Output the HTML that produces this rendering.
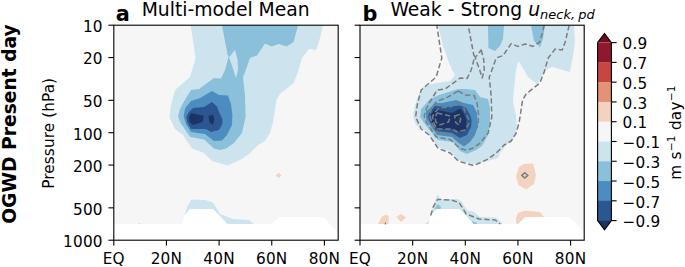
<!DOCTYPE html>
<html lang="en">
<head>
<meta charset="utf-8">
<title>OGWD Present day</title>
<style>
html,body{margin:0;padding:0;background:#fff;}
body{width:685px;height:267px;overflow:hidden;}
svg{display:block;}
text{font-family:"DejaVu Sans","Liberation Sans",sans-serif;fill:#000;}
.tk{font-size:15.28px;letter-spacing:0.22px;}
.ti{font-size:18.75px;}
.pl{font-size:20.83px;font-weight:bold;}
.it{font-style:italic;}
</style>
</head>
<body>
<svg width="685" height="267" viewBox="0 0 685 267">
<rect width="685" height="267" fill="#fff"/>
<defs>
<clipPath id="ca"><rect x="113.8" y="25.2" width="224.4" height="215.0"/></clipPath>
<clipPath id="cb"><rect x="360.0" y="25.2" width="224.2" height="215.0"/></clipPath>
</defs>

<g clip-path="url(#ca)">
<rect x="113.8" y="25.2" width="224.4" height="215.0" fill="#f6f6f6"/>
<polygon points="190.6,25.2 323.0,25.2 319.0,42.0 316.0,50.0 309.0,49.0 302.0,58.0 298.0,72.0 293.6,83.0 280.0,94.0 276.4,100.0 274.6,112.0 273.0,122.0 270.0,133.0 265.0,141.0 258.0,145.0 250.0,153.0 242.0,159.0 227.6,165.6 212.0,161.0 204.0,153.0 192.0,148.5 183.0,135.0 175.0,129.0 169.4,117.0 171.0,105.0 175.0,90.0 190.0,77.0 192.0,70.0 195.6,58.0" fill="#cde4ef"/>
<polygon points="222.0,25.2 298.0,25.2 293.6,42.0 286.6,46.4 279.0,44.0 271.6,46.4 265.0,43.6 257.0,55.5 250.0,58.0 244.0,75.0 243.0,77.0 245.0,96.0 245.6,117.0 242.0,133.0 234.0,143.0 226.0,148.6 220.0,150.0 214.0,148.6 204.0,139.5 190.0,137.0 180.0,122.0 178.0,116.0 180.0,109.0 183.0,103.0 191.0,90.0 199.0,89.0 214.0,78.0 221.0,78.4 225.0,70.0 228.6,56.5 227.6,55.0" fill="#8bc0da"/>
<polygon points="235.0,50.0 237.6,60.0 238.0,70.0 236.0,78.0 233.5,70.0 229.0,57.5" fill="#cde4ef"/>
<polygon points="212.0,91.0 219.0,95.0 228.0,95.6 231.0,104.0 232.4,115.0 232.0,125.0 227.0,135.0 222.0,140.6 214.0,141.0 205.0,134.0 191.0,132.0 186.0,124.0 183.6,116.0 185.0,109.0 186.0,107.0 191.0,101.0 200.0,98.0" fill="#4c8cc0"/>
<polygon points="212.0,102.0 217.0,106.5 219.0,112.0 222.4,119.0 222.4,124.0 219.0,130.0 211.0,132.0 206.0,129.0 191.0,129.0 187.0,122.0 186.4,116.5 189.0,112.0 193.0,108.0 204.0,107.0" fill="#2c5690"/>
<polygon points="191.0,113.0 204.0,116.0 202.4,122.0 193.0,125.0 189.6,122.0 189.0,117.0" fill="#1b3465"/>
<polygon points="208.4,116.0 213.0,114.6 214.4,119.0 213.0,125.0 209.6,122.6" fill="#1b3465"/>
<polygon points="275.6,175.4 278.6,172.8 281.6,175.4 278.6,178.0" fill="#f3d3c0"/>
<polygon points="184.5,215.5 187.0,207.0 191.4,199.4 205.0,200.0 213.0,202.6 220.0,214.0 233.0,219.0 249.0,220.0 254.0,224.0 254.0,230.0 184.0,230.0" fill="#cde4ef"/>
<polygon points="137.6,224.3 139.2,222.9 140.8,224.3" fill="#f3d3c0"/>
<polygon points="113.8,224.0 182.6,224.0 184.0,216.0 190.0,209.0 213.0,209.0 220.0,216.0 227.4,224.0 272.0,224.0 279.0,217.0 323.0,217.0 338.2,232.5 338.2,240.2 113.8,240.2" fill="#fff"/>
</g>
<g clip-path="url(#cb)">
<rect x="360.0" y="25.2" width="224.2" height="215.0" fill="#f6f6f6"/>
<polygon points="438.0,25.2 574.0,25.2 575.0,42.0 573.0,56.0 570.0,72.0 552.0,67.0 546.0,70.0 543.0,75.0 541.0,78.0 537.0,84.0 528.0,77.0 524.0,70.0 518.4,61.0 516.0,70.0 514.0,90.0 513.0,102.0 516.0,115.0 517.0,129.0 513.0,140.0 507.0,144.0 500.0,153.0 498.0,158.0 484.0,162.0 473.0,164.0 458.0,160.0 450.0,151.0 444.0,150.0 436.0,145.0 431.0,137.0 426.0,131.0 416.0,125.0 413.0,117.0 414.5,107.0 418.0,96.0 423.0,87.0 436.0,83.0 450.0,81.0 455.0,75.0 452.0,70.0 448.0,60.0 443.0,46.0" fill="#cde4ef"/>
<polygon points="488.0,25.2 504.0,25.2 503.0,39.0 500.0,46.0 495.0,51.0 488.4,48.0" fill="#8bc0da"/>
<polygon points="531.0,25.2 545.0,25.2 543.0,39.0 540.0,47.6 534.0,41.0" fill="#8bc0da"/>
<polygon points="458.0,89.0 465.0,89.0 475.0,90.0 480.0,97.0 488.0,99.0 490.0,108.0 490.0,125.0 488.0,135.0 482.0,146.0 476.0,150.0 467.0,154.0 460.0,151.0 453.0,142.0 438.0,140.0 431.0,132.0 424.0,123.0 420.0,117.0 421.0,109.0 423.0,107.0 430.0,99.0 439.0,95.0" fill="#8bc0da"/>
<polygon points="456.0,100.0 464.0,103.0 473.0,105.0 477.0,113.0 478.0,125.0 475.0,135.0 470.0,142.0 464.0,146.5 458.0,142.5 452.0,137.0 437.0,135.0 432.0,128.0 426.0,119.0 426.0,111.0 429.0,109.0 435.0,103.0 442.0,103.0" fill="#4c8cc0"/>
<polygon points="460.0,105.5 466.0,108.0 470.0,115.0 471.6,120.0 471.0,127.0 467.0,135.0 460.0,138.0 452.0,133.0 436.0,131.0 430.0,122.0 428.0,117.0 429.0,113.0 435.0,106.0 446.0,107.0" fill="#2c5690"/>
<polygon points="435.0,109.0 442.0,111.0 452.0,113.0 460.0,108.5 463.0,112.0 466.4,119.0 466.0,129.0 462.0,133.0 454.0,129.0 438.0,129.0 432.0,122.0 431.0,114.0" fill="#1b3465"/>
<polygon points="524.0,164.0 533.0,163.4 536.0,175.0 534.0,184.0 526.0,189.4 518.4,185.0 516.0,176.0 519.0,167.0" fill="#f3d3c0"/>
<polygon points="378.0,224.0 382.0,216.6 386.0,214.6 389.0,217.0 388.4,224.0 388.4,226.0 378.0,226.0" fill="#f3d3c0"/>
<polygon points="396.4,217.0 401.0,214.0 406.0,217.4 401.0,222.0" fill="#f3d3c0"/>
<polygon points="516.0,218.0 518.0,213.0 525.0,210.6 540.0,212.0 544.0,217.0 544.0,221.0 518.0,227.0 516.0,222.0" fill="#f3d3c0"/>
<polygon points="425.0,224.0 429.0,221.0 433.0,207.0 437.6,194.0 440.0,199.0 458.0,199.0 461.6,202.0 467.0,210.0 474.0,212.0 480.0,217.0 496.0,217.4 503.0,224.0 503.0,230.0 425.0,230.0" fill="#cde4ef"/>
<polygon points="435.0,208.0 438.0,204.0 441.0,207.0 440.0,211.0 436.0,211.0" fill="#8bc0da"/>
<polygon points="472.0,221.0 477.0,223.0 476.0,226.0 473.0,226.0" fill="#8bc0da"/>
<polygon points="360.0,224.0 428.8,224.0 430.2,216.0 436.2,209.0 459.2,209.0 466.2,216.0 473.6,224.0 518.2,224.0 525.2,217.0 569.2,217.0 584.4,232.5 584.4,240.2 360.0,240.2" fill="#fff"/>
<g fill="none" stroke="#7d7d7d" stroke-width="1.5" stroke-dasharray="5.3 2.7" stroke-linejoin="round">
<polyline points="569.2,25.2 565.2,42.0 562.2,50.0 555.2,49.0 548.2,58.0 544.2,72.0 539.8,83.0 526.2,94.0 522.6,100.0 520.8,112.0 519.2,122.0 516.2,133.0 511.2,141.0 504.2,145.0 496.2,153.0 488.2,159.0 473.8,165.6 458.2,161.0 450.2,153.0 438.2,148.5 429.2,135.0 421.2,129.0 415.6,117.0 417.2,105.0 421.2,90.0 436.2,77.0 438.2,70.0 441.8,58.0 436.8,25.2"/>
<polyline points="544.2,25.2 539.8,42.0 532.8,46.4 525.2,44.0 517.8,46.4 511.2,43.6 503.2,55.5 496.2,58.0 490.2,75.0 489.2,77.0 491.2,96.0 491.8,117.0 488.2,133.0 480.2,143.0 472.2,148.6 466.2,150.0 460.2,148.6 450.2,139.5 436.2,137.0 426.2,122.0 424.2,116.0 426.2,109.0 429.2,103.0 437.2,90.0 445.2,89.0 460.2,78.0 467.2,78.4 471.2,70.0 474.8,56.5 473.8,55.0 468.2,25.2"/>
<polygon points="481.2,50.0 483.8,60.0 484.2,70.0 482.2,78.0 479.7,70.0 475.2,57.5"/>
<polygon points="458.2,91.0 465.2,95.0 474.2,95.6 477.2,104.0 478.6,115.0 478.2,125.0 473.2,135.0 468.2,140.6 460.2,141.0 451.2,134.0 437.2,132.0 432.2,124.0 429.8,116.0 431.2,109.0 432.2,107.0 437.2,101.0 446.2,98.0"/>
<polygon points="458.2,102.0 463.2,106.5 465.2,112.0 468.6,119.0 468.6,124.0 465.2,130.0 457.2,132.0 452.2,129.0 437.2,129.0 433.2,122.0 432.6,116.5 435.2,112.0 439.2,108.0 450.2,107.0"/>
<polygon points="437.2,113.0 450.2,116.0 448.6,122.0 439.2,125.0 435.8,122.0 435.2,117.0"/>
<polygon points="454.6,116.0 459.2,114.6 460.6,119.0 459.2,125.0 455.8,122.6"/>
<polyline points="430.7,215.5 433.2,207.0 437.6,199.4 451.2,200.0 459.2,202.6 466.2,214.0 479.2,219.0 495.2,220.0 500.2,224.0"/>
</g>
<polygon points="521.8,175.4 524.8,172.8 527.8,175.4 524.8,178.0" fill="none" stroke="#7d7d7d" stroke-width="1.4"/>
<line x1="385.4" y1="222.6" x2="385.4" y2="224.6" stroke="#7d7d7d" stroke-width="1.2"/>
</g>
<rect x="113.8" y="25.2" width="224.4" height="215.0" fill="none" stroke="#000" stroke-width="1.1"/>
<line x1="113.80" y1="240.2" x2="113.80" y2="245.6" stroke="#000" stroke-width="1.1"/>
<text class="tk" x="113.80" y="263.9" text-anchor="middle">EQ</text>
<line x1="166.45" y1="240.2" x2="166.45" y2="245.6" stroke="#000" stroke-width="1.1"/>
<text class="tk" x="166.45" y="263.9" text-anchor="middle">20N</text>
<line x1="219.10" y1="240.2" x2="219.10" y2="245.6" stroke="#000" stroke-width="1.1"/>
<text class="tk" x="219.10" y="263.9" text-anchor="middle">40N</text>
<line x1="271.75" y1="240.2" x2="271.75" y2="245.6" stroke="#000" stroke-width="1.1"/>
<text class="tk" x="271.75" y="263.9" text-anchor="middle">60N</text>
<line x1="324.40" y1="240.2" x2="324.40" y2="245.6" stroke="#000" stroke-width="1.1"/>
<text class="tk" x="324.40" y="263.9" text-anchor="middle">80N</text>
<line x1="108.4" y1="25.20" x2="113.8" y2="25.20" stroke="#000" stroke-width="1.1"/>
<text class="tk" x="102.8" y="32.00" text-anchor="end">10</text>
<line x1="108.4" y1="57.56" x2="113.8" y2="57.56" stroke="#000" stroke-width="1.1"/>
<text class="tk" x="102.8" y="64.36" text-anchor="end">20</text>
<line x1="108.4" y1="100.34" x2="113.8" y2="100.34" stroke="#000" stroke-width="1.1"/>
<text class="tk" x="102.8" y="107.14" text-anchor="end">50</text>
<line x1="108.4" y1="132.70" x2="113.8" y2="132.70" stroke="#000" stroke-width="1.1"/>
<text class="tk" x="102.8" y="139.50" text-anchor="end">100</text>
<line x1="108.4" y1="165.06" x2="113.8" y2="165.06" stroke="#000" stroke-width="1.1"/>
<text class="tk" x="102.8" y="171.86" text-anchor="end">200</text>
<line x1="108.4" y1="207.84" x2="113.8" y2="207.84" stroke="#000" stroke-width="1.1"/>
<text class="tk" x="102.8" y="214.64" text-anchor="end">500</text>
<line x1="108.4" y1="240.20" x2="113.8" y2="240.20" stroke="#000" stroke-width="1.1"/>
<text class="tk" x="102.8" y="247.00" text-anchor="end">1000</text>
<rect x="360.0" y="25.2" width="224.2" height="215.0" fill="none" stroke="#000" stroke-width="1.1"/>
<line x1="360.00" y1="240.2" x2="360.00" y2="245.6" stroke="#000" stroke-width="1.1"/>
<text class="tk" x="360.00" y="263.9" text-anchor="middle">EQ</text>
<line x1="412.65" y1="240.2" x2="412.65" y2="245.6" stroke="#000" stroke-width="1.1"/>
<text class="tk" x="412.65" y="263.9" text-anchor="middle">20N</text>
<line x1="465.30" y1="240.2" x2="465.30" y2="245.6" stroke="#000" stroke-width="1.1"/>
<text class="tk" x="465.30" y="263.9" text-anchor="middle">40N</text>
<line x1="517.95" y1="240.2" x2="517.95" y2="245.6" stroke="#000" stroke-width="1.1"/>
<text class="tk" x="517.95" y="263.9" text-anchor="middle">60N</text>
<line x1="570.60" y1="240.2" x2="570.60" y2="245.6" stroke="#000" stroke-width="1.1"/>
<text class="tk" x="570.60" y="263.9" text-anchor="middle">80N</text>
<line x1="354.6" y1="25.20" x2="360.0" y2="25.20" stroke="#000" stroke-width="1.1"/>
<line x1="354.6" y1="57.56" x2="360.0" y2="57.56" stroke="#000" stroke-width="1.1"/>
<line x1="354.6" y1="100.34" x2="360.0" y2="100.34" stroke="#000" stroke-width="1.1"/>
<line x1="354.6" y1="132.70" x2="360.0" y2="132.70" stroke="#000" stroke-width="1.1"/>
<line x1="354.6" y1="165.06" x2="360.0" y2="165.06" stroke="#000" stroke-width="1.1"/>
<line x1="354.6" y1="207.84" x2="360.0" y2="207.84" stroke="#000" stroke-width="1.1"/>
<line x1="354.6" y1="240.20" x2="360.0" y2="240.20" stroke="#000" stroke-width="1.1"/>
<text class="pl" x="115.8" y="20.6">a</text>
<text class="ti" x="225.7" y="15.9" text-anchor="middle">Multi-model Mean</text>
<text class="pl" x="362.4" y="20.6">b</text>
<text class="ti" x="390.4" y="15.9">Weak - Strong <tspan class="it">u</tspan><tspan class="it" font-size="13px" dy="2.8">neck,</tspan><tspan class="it" font-size="13px" dx="3.2">pd</tspan></text>
<text transform="translate(15.6,124) rotate(-90)" text-anchor="middle" font-size="18.7px" font-weight="bold">OGWD Present day</text>
<text class="tk" style="letter-spacing:0.1px" transform="translate(53.6,133.3) rotate(-90)" text-anchor="middle">Pressure (hPa)</text>
<rect x="597.6" y="42.60" width="13.8" height="20.08" fill="#8f182c"/>
<rect x="597.6" y="62.38" width="13.8" height="20.08" fill="#c74642"/>
<rect x="597.6" y="82.16" width="13.8" height="20.08" fill="#e49275"/>
<rect x="597.6" y="101.93" width="13.8" height="20.08" fill="#f3d3c0"/>
<rect x="597.6" y="121.71" width="13.8" height="20.08" fill="#f6f6f6"/>
<rect x="597.6" y="141.49" width="13.8" height="20.08" fill="#cde4ef"/>
<rect x="597.6" y="161.27" width="13.8" height="20.08" fill="#8bc0da"/>
<rect x="597.6" y="181.04" width="13.8" height="20.08" fill="#4c8cc0"/>
<rect x="597.6" y="200.82" width="13.8" height="20.08" fill="#2c5690"/>
<polygon points="597.6,42.6 604.5,33.4 611.4,42.6" fill="#6e0c24"/>
<polygon points="597.6,220.6 604.5,229.8 611.4,220.6" fill="#1b3465"/>
<polygon points="597.6,42.6 604.5,33.4 611.4,42.6 611.4,220.6 604.5,229.8 597.6,220.6" fill="none" stroke="#000" stroke-width="1.1" stroke-linejoin="miter"/>
<line x1="611.4" y1="42.60" x2="616.6" y2="42.60" stroke="#000" stroke-width="1.1"/>
<text class="tk" x="622.5" y="49.30">0.9</text>
<line x1="611.4" y1="62.38" x2="616.6" y2="62.38" stroke="#000" stroke-width="1.1"/>
<text class="tk" x="622.5" y="69.08">0.7</text>
<line x1="611.4" y1="82.16" x2="616.6" y2="82.16" stroke="#000" stroke-width="1.1"/>
<text class="tk" x="622.5" y="88.86">0.5</text>
<line x1="611.4" y1="101.93" x2="616.6" y2="101.93" stroke="#000" stroke-width="1.1"/>
<text class="tk" x="622.5" y="108.63">0.3</text>
<line x1="611.4" y1="121.71" x2="616.6" y2="121.71" stroke="#000" stroke-width="1.1"/>
<text class="tk" x="622.5" y="128.41">0.1</text>
<line x1="611.4" y1="141.49" x2="616.6" y2="141.49" stroke="#000" stroke-width="1.1"/>
<text class="tk" x="622.5" y="148.19">−0.1</text>
<line x1="611.4" y1="161.27" x2="616.6" y2="161.27" stroke="#000" stroke-width="1.1"/>
<text class="tk" x="622.5" y="167.97">−0.3</text>
<line x1="611.4" y1="181.04" x2="616.6" y2="181.04" stroke="#000" stroke-width="1.1"/>
<text class="tk" x="622.5" y="187.74">−0.5</text>
<line x1="611.4" y1="200.82" x2="616.6" y2="200.82" stroke="#000" stroke-width="1.1"/>
<text class="tk" x="622.5" y="207.52">−0.7</text>
<line x1="611.4" y1="220.60" x2="616.6" y2="220.60" stroke="#000" stroke-width="1.1"/>
<text class="tk" x="622.5" y="227.30">−0.9</text>
<text class="tk" transform="translate(680.5,132.4) rotate(-90)" text-anchor="middle">m s<tspan font-size="10.7px" dy="-5.8">−1</tspan><tspan dy="5.8"> day</tspan><tspan font-size="10.7px" dy="-5.8">−1</tspan></text>
</svg>
</body>
</html>
